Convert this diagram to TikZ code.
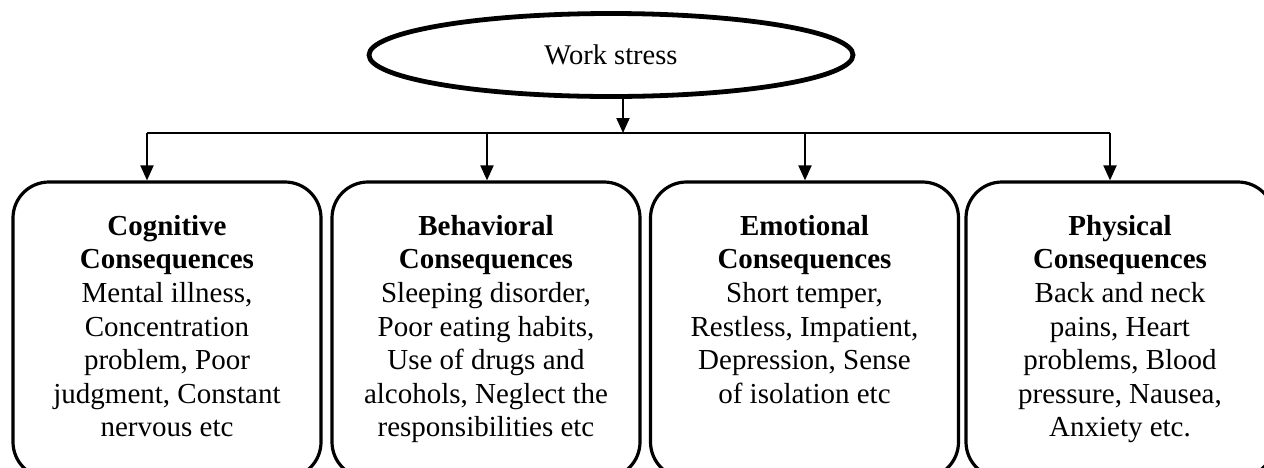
\documentclass[tikz,border=0pt]{standalone}
\usepackage{fontspec}
\setmainfont{Liberation Serif}
\usetikzlibrary{shapes.geometric,arrows.meta}
\tikzset{
  boxnode/.style={draw, line width=3.2pt, rounded corners=36pt, minimum width=308pt, minimum height=296pt, inner sep=0pt},
  txt/.style={anchor=north, align=center, inner sep=0pt, font=\fontsize{29}{33.6}\selectfont},
  conn/.style={line width=2pt},
  arr/.style={line width=2pt, -{Triangle[width=13pt,length=15pt]}},
}
\begin{document}
\begin{tikzpicture}[x=1pt,y=-1pt]
\clip (0,0) rectangle (1264,467);
\fill[white] (0,0) rectangle (1264,467);
\node[draw, ellipse, line width=4.8pt, minimum width=484pt, minimum height=83pt, inner sep=0pt,
      font=\fontsize{28.5}{33}\selectfont] (ws) at (611,55) {Work stress};
\coordinate (j) at (623,133);
\coordinate (j1) at (147,133);
\coordinate (j2) at (487,133);
\coordinate (j3) at (805,133);
\coordinate (j4) at (1110,133);
\node[boxnode] (b1) at (167,330) {};
\node[boxnode] (b2) at (486,330) {};
\node[boxnode] (b3) at (804.5,330) {};
\node[boxnode] (b4) at (1120,330) {};
\node[txt] (t1) at (167,210) {\rule{0pt}{25pt}\textbf{Cognitive}\\\textbf{Consequences}\\Mental illness,\\Concentration\\problem, Poor\\judgment, Constant\\nervous etc};
\node[txt] (t2) at (486,210) {\rule{0pt}{25pt}\textbf{Behavioral}\\\textbf{Consequences}\\Sleeping disorder,\\Poor eating habits,\\Use of drugs and\\alcohols, Neglect the\\responsibilities etc};
\node[txt] (t3) at (804.5,210) {\rule{0pt}{25pt}\textbf{Emotional}\\\textbf{Consequences}\\Short temper,\\Restless, Impatient,\\Depression, Sense\\of isolation etc};
\node[txt] (t4) at (1120,210) {\rule{0pt}{25pt}\textbf{Physical}\\\textbf{Consequences}\\Back and neck\\pains, Heart\\problems, Blood\\pressure, Nausea,\\Anxiety etc.};
\draw[arr] (ws.south -| j) -- (j);
\draw[conn] (j1) -- (j4);
\draw[arr] (j1) -- (j1 |- b1.north);
\draw[arr] (j2) -- (j2 |- b2.north);
\draw[arr] (j3) -- (j3 |- b3.north);
\draw[arr] (j4) -- (j4 |- b4.north);
\end{tikzpicture}
\end{document}
